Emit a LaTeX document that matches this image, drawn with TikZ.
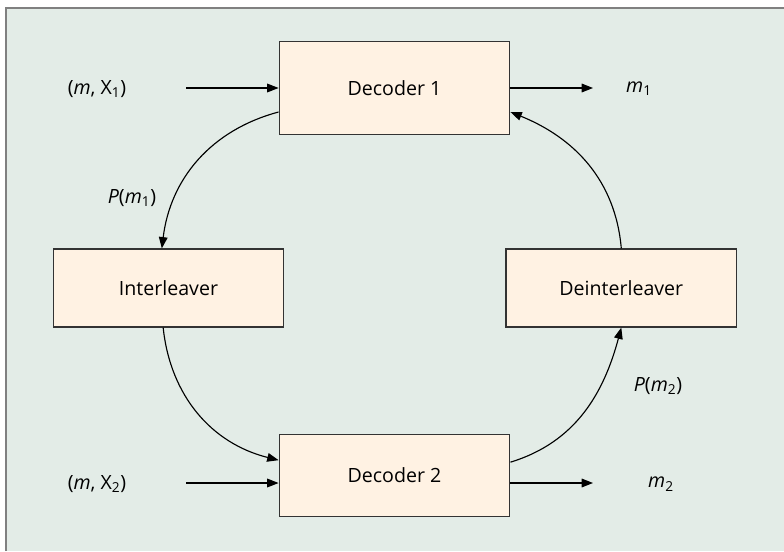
\documentclass[tikz,border=0pt]{standalone}
\usepackage{fontspec}
\setmainfont{Open Sans}
\usetikzlibrary{arrows.meta}

\definecolor{panel}{HTML}{E3ECE7}
\definecolor{boxfill}{HTML}{FFF2E3}
\definecolor{frame}{HTML}{808080}
\definecolor{edge}{HTML}{333333}

\begin{document}
\begin{tikzpicture}[x=0.75pt, y=0.75pt, font=\fontsize{14.7}{17}\selectfont,
			block/.style={rectangle, draw=edge, line width=0.9pt, fill=boxfill, minimum width=173pt, minimum height=58.5pt, inner sep=0pt},
			arrow/.style={-{Triangle[length=8.5pt,width=6.5pt]}, line width=0.85pt},
			lbl/.style={inner sep=0pt}]

			% background panel with its frame on two sides
			\useasboundingbox (0,0) rectangle (784,551);
			\fill[panel] (5,0) rectangle (784,544);
			\draw[frame, line width=1.3pt] (5.8,0) -- (5.8,543.2) -- (784,543.2);

			\node[block, minimum height=69.5pt] (D1) at (394.5,463) {Decoder 1};
			\node[block, minimum height=62pt] (D2) at (394.5,75.5) {Decoder 2};
			\node[block] (IL) at (168.5,263) {Interleaver};
			\node[block] (DIL) at (621.3,263) {Deinterleaver};

			\node[lbl] (X1) at (97,462) {(\textit{m}, X\textsubscript{1})};
			\node[lbl] (X2) at (97,67) {(\textit{m}, X\textsubscript{2})};
			\node[lbl] (M1) at (639,462) {\textit{m}\textsubscript{1}};
			\node[lbl] (M2) at (661,67) {\textit{m}\textsubscript{2}};
			\node[lbl] (PM1) at (132,353) {\textit{P}(\textit{m}\textsubscript{1})};
			\node[lbl] (PM2) at (658,165) {\textit{P}(\textit{m}\textsubscript{2})};

			\coordinate (A1) at (186,463);
			\coordinate (B1) at (593,463);
			\coordinate (A2) at (186,68);
			\coordinate (B2) at (593,68);

			\draw[arrow] (A1) -- (D1);
			\draw[arrow] (D1) -- (B1);
			\draw[arrow] (A2) -- (A2 -| D2.west);
			\draw[arrow] (B2 -| D2.east) -- (B2);

			% feedback loop
			\draw[arrow] ([yshift=-18pt]D1.west) to[out=195, in=83] ([xshift=-5pt]IL.north);
			\draw[arrow] ([xshift=-4pt]IL.south) to[out=-84, in=166] ([yshift=11.5pt]D2.west);
			\draw[arrow] ([yshift=10pt]D2.east) to[out=17, in=-105] (DIL.south);
			\draw[arrow] (DIL.north) to[out=95, in=-22] ([yshift=-18pt]D1.east);
		\end{tikzpicture}
\end{document}
